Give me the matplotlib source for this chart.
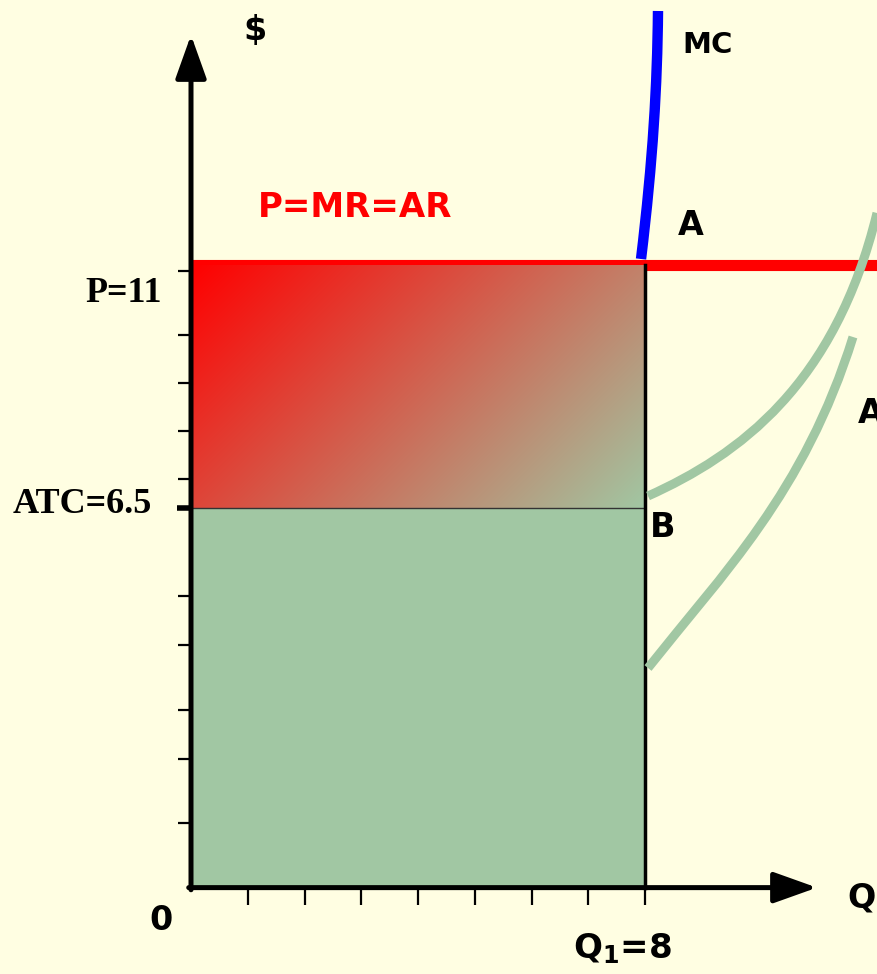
import numpy as np
import matplotlib
matplotlib.use('Agg')
import matplotlib.pyplot as plt
from matplotlib.path import Path
from matplotlib.patches import PathPatch

# --- values ---
price = 11.0          # P = MR = AR
atc_at_q1 = 6.5       # ATC at Q1
q1 = 8                # profit-maximising output
x_ticks = [1, 2, 3, 4, 5, 6, 7, 8]
y_ticks = [10.89, 9.70, 8.81, 7.93, 7.04, 4.87, 3.96, 2.76, 1.85, 0.67]

# cost curves as cubic bezier (start, control, control, end)
mc_q = [7.930, 8.141, 8.216, 8.229]
mc_c = [11.111, 12.963, 14.315, 15.704]

atc_q = [8.053, 9.662, 11.348, 12.088]
atc_c = [6.722, 7.483, 8.778, 11.963]

avc_q = [8.053, 9.357, 10.807, 11.665]
avc_c = [3.537, 5.269, 6.781, 9.667]

bg = '#fffee2'
green = '#a1c7a3'
base = -0.53          # where the quantity axis is drawn

fig = plt.figure(figsize=(8.77, 9.74), dpi=100, facecolor=bg)
ax = fig.add_axes([0, 0, 1, 1])
ax.axis('off')
xlim = (-191 / 56.75, (877 - 191) / 56.75)
ylim = ((859 - 974) / 54, 859 / 54)
ax.set_xlim(*xlim)
ax.set_ylim(*ylim)

# price line (under the profit box)
ax.plot([0, xlim[1]], [price, price], color='#ff0000', lw=8, zorder=2,
        solid_capstyle='butt')

# total cost box
ax.fill_between([0, q1], base, atc_at_q1, color=green, lw=0, zorder=3)

# profit box with diagonal gradient
p0 = ax.transData.transform((0, atc_at_q1))
p1 = ax.transData.transform((q1, price))
w, h = p1[0] - p0[0], p1[1] - p0[1]
u = np.linspace(0, 1, 400)[None, :]
v = np.linspace(0, 1, 220)[:, None]
t = (u * w + v * h) / (w + h)
c0 = np.array([255, 0, 0]) / 255
c1 = np.array([161, 199, 163]) / 255
img = c0 + t[..., None] * (c1 - c0)
ax.imshow(img, extent=[0, q1, atc_at_q1, price], origin='upper',
          aspect='auto', zorder=4, interpolation='bilinear')
ax.set_xlim(*xlim)
ax.set_ylim(*ylim)
ax.plot([0, q1], [atc_at_q1, atc_at_q1], color='#333333', lw=1, zorder=5)
ax.plot([q1, q1], [base, price], color='black', lw=2.5, zorder=5)


def curve(qs, cs, color, lw):
    path = Path(list(zip(qs, cs)),
                [Path.MOVETO, Path.CURVE4, Path.CURVE4, Path.CURVE4])
    ax.add_patch(PathPatch(path, fill=False, edgecolor=color, lw=lw,
                           capstyle='butt', zorder=6))


curve(mc_q, mc_c, '#0000ff', 7.5)
curve(atc_q, atc_c, green, 6.5)
curve(avc_q, avc_c, green, 6.5)

# axes with arrows
head = '-|>,head_length=0.7,head_width=0.25'
ax.annotate('', xy=(0, (859 - 35) / 54), xytext=(0, base - 0.04),
            arrowprops=dict(arrowstyle=head, lw=3.6, color='black',
                            mutation_scale=38, shrinkA=0, shrinkB=0), zorder=7)
ax.annotate('', xy=((817 - 191) / 56.75, base), xytext=(-0.04, base),
            arrowprops=dict(arrowstyle=head, lw=3.6, color='black',
                            mutation_scale=38, shrinkA=0, shrinkB=0), zorder=7)
ax.hlines(y_ticks, -0.23, 0, color='black', lw=1.6, zorder=7)
ax.hlines([atc_at_q1], -0.25, 0, color='black', lw=4, zorder=7)
ax.vlines(x_ticks, base - 0.33, base, color='black', lw=1.6, zorder=7)


def px(xp, yp):
    return (xp - 191) / 56.75, (859 - yp) / 54


sans = dict(family='DejaVu Sans', fontweight='bold', color='black', zorder=8)
serif = dict(family='Liberation Serif', fontweight='bold', color='black', zorder=8)

ax.text(*px(255, 30), '$', fontsize=24, ha='center', va='center', **sans)
ax.text(*px(682, 53), 'MC', fontsize=21, ha='left', va='baseline', **sans)
ax.text(*px(691, 235), 'A', fontsize=24, ha='center', va='baseline', **sans)
ax.text(*px(650, 537), 'B', fontsize=24, ha='left', va='baseline', **sans)
ax.text(*px(858, 423), 'AVC', fontsize=24, ha='left', va='baseline', **sans)
ax.text(*px(355, 217), 'P=MR=AR', fontsize=24.5, ha='center', va='baseline',
        **{**sans, 'color': '#ff0000'})
ax.text(*px(162, 302), 'P=11', fontsize=26, ha='right', va='baseline', **serif)
ax.text(*px(152, 513), 'ATC=6.5', fontsize=26, ha='right', va='baseline', **serif)
ax.text(*px(161, 930), '0', fontsize=24, ha='center', va='baseline', **sans)
ax.text(*px(847, 907), 'Q', fontsize=24, ha='left', va='baseline', **sans)
ax.text(*px(573, 958), r'Q$_\mathbf{1}$=8', fontsize=24.5, ha='left',
        va='baseline', **sans)

fig.savefig('out.png', dpi=100, facecolor=bg)
